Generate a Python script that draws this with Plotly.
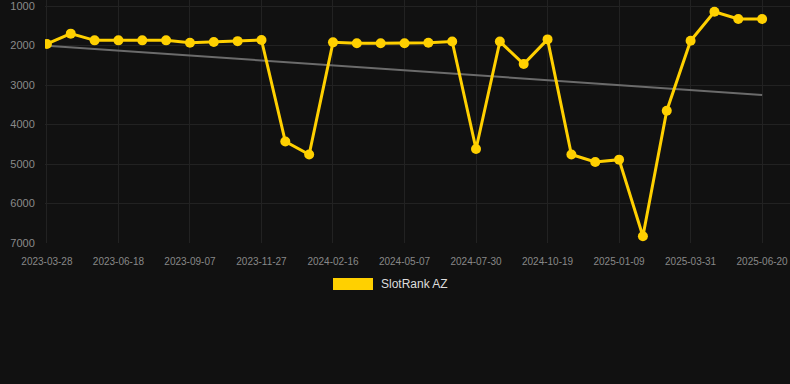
import plotly.graph_objects as go

dates = ["2023-03-28", "2023-04-24", "2023-05-21", "2023-06-18", "2023-07-15", "2023-08-11",
         "2023-09-07", "2023-10-04", "2023-10-31", "2023-11-27", "2023-12-24", "2024-01-20",
         "2024-02-16", "2024-03-13", "2024-04-09", "2024-05-07", "2024-06-04", "2024-07-02",
         "2024-07-30", "2024-08-26", "2024-09-22", "2024-10-19", "2024-11-15", "2024-12-12",
         "2025-01-09", "2025-02-05", "2025-03-04", "2025-03-31", "2025-04-27", "2025-05-24",
         "2025-06-20"]
rank = [1960, 1700, 1870, 1870, 1870, 1870, 1930, 1910, 1890, 1860, 4430, 4760,
        1920, 1945, 1945, 1945, 1930, 1900, 4620, 1900, 2470, 1845, 4760, 4950,
        4890, 6830, 3650, 1880, 1145, 1330, 1330]
trend_x = [dates[0], dates[-1]]
trend_y = [2005, 3253]
tick_labels = dates[::3]
y_ticks = [1000, 2000, 3000, 4000, 5000, 6000, 7000]

BG = "#111111"
GRID = "#222222"
YELLOW = "#FFD000"

fig = go.Figure()
fig.add_trace(go.Scatter(x=trend_x, y=trend_y, mode="lines",
                         line=dict(color="#6b6b6b", width=2), showlegend=False, hoverinfo="skip"))
fig.add_trace(go.Scatter(x=dates, y=rank, mode="lines+markers", name="SlotRank AZ",
                         line=dict(color=YELLOW, width=3),
                         marker=dict(color=YELLOW, size=10), showlegend=False))

fig.update_layout(
    width=790, height=384,
    margin=dict(l=45, r=0, t=0, b=141),
    paper_bgcolor=BG, plot_bgcolor=BG,
    font=dict(family="Arial, Liberation Sans, sans-serif", color="#8a8a8a"),
    showlegend=False,
    xaxis=dict(type="category", categoryorder="array", categoryarray=dates,
               range=[-0.08, 31.17], tickmode="array", tickvals=tick_labels, ticktext=tick_labels,
               showgrid=True, gridcolor=GRID, gridwidth=1, zeroline=False, showline=False,
               tickfont=dict(size=10, color="#888888"), ticks="outside", ticklen=9,
               tickcolor=BG, tickangle=0, ticklabeloverflow="allow"),
    yaxis=dict(range=[7000, 848], tickmode="array", tickvals=y_ticks,
               showgrid=True, gridcolor=GRID, gridwidth=1, zeroline=False, showline=False,
               tickfont=dict(size=11, color="#8a8a8a"), ticks="outside", ticklen=7,
               tickcolor=BG, ticklabeloverflow="allow"),
    shapes=[dict(type="rect", xref="paper", yref="paper",
                 x0=(333 - 45) / 745, x1=(373 - 45) / 745,
                 y0=(384 - 141 - 290) / 243, y1=(384 - 141 - 278) / 243,
                 fillcolor=YELLOW, line=dict(width=0))],
    annotations=[dict(text="SlotRank AZ", xref="paper", yref="paper",
                      x=(379 - 45) / 745, y=(384 - 141 - 284) / 243,
                      xanchor="left", yanchor="middle", showarrow=False,
                      font=dict(size=12, color="#dddddd"))],
)

fig.write_html("out.html")
